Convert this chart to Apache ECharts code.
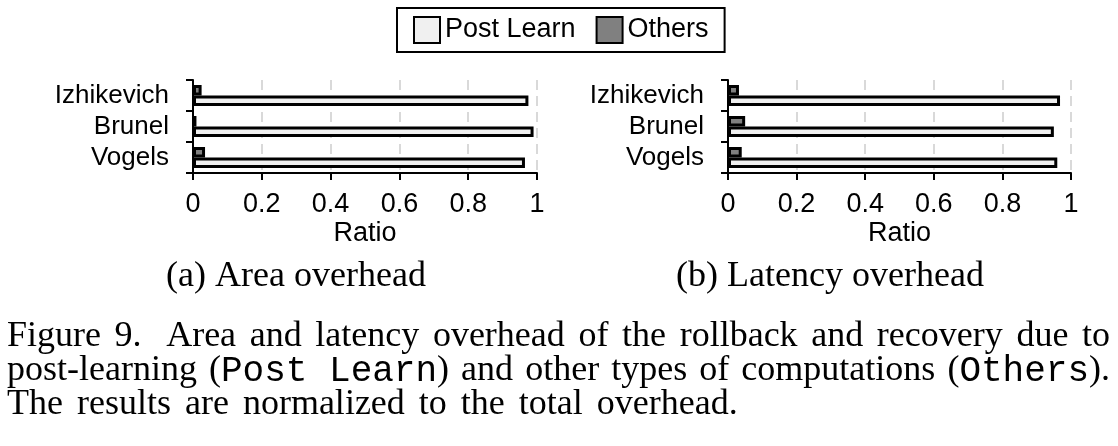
<!DOCTYPE html>
<html><head><meta charset="utf-8">
<script src="https://cdn.jsdelivr.net/npm/echarts@6/dist/echarts.min.js"></script>
<style>html,body{margin:0;padding:0;background:#fff}#c{width:1118px;height:446px}</style>
</head><body><div id="c"></div>
<script>
// ---- data ----
const categories = ['Izhikevich', 'Brunel', 'Vogels'];
const ratioTicks = ['0', '0.2', '0.4', '0.6', '0.8', '1'];
const seriesNames = ['Post Learn', 'Others'];
const areaPostLearn = [0.975, 0.99, 0.965];
const areaOthers = [0.025, 0.01, 0.035];
const latencyPostLearn = [0.968, 0.95, 0.96];
const latencyOthers = [0.032, 0.05, 0.04];
const panelTitles = ['(a) Area overhead', '(b) Latency overhead'];
const axisName = 'Ratio';
// caption: lines -> words -> pieces [text, 's' serif | 'm' mono]
const captionLine1 = [[['Figure', 's']], [['9.', 's']], [['Area', 's']], [['and', 's']], [['latency', 's']], [['overhead', 's']], [['of', 's']], [['the', 's']], [['rollback', 's']], [['and', 's']], [['recovery', 's']], [['due', 's']], [['to', 's']]];
const captionLine2 = [[['post-learning', 's']], [['(', 's'], ['Post Learn', 'm'], [')', 's']], [['and', 's']], [['other', 's']], [['types', 's']], [['of', 's']], [['computations', 's']], [['(', 's'], ['Others', 'm'], [').', 's']]];
const captionLine3 = [[['The', 's']], [['results', 's']], [['are', 's']], [['normalized', 's']], [['to', 's']], [['the', 's']], [['total', 's']], [['overhead.', 's']]];

// ---- styles ----
const SANS = '"Liberation Sans", Arial, sans-serif';
const CAP_SIZE = 36;
const FONTS = { s: CAP_SIZE + 'px "Liberation Serif", "Times New Roman", serif', m: CAP_SIZE + 'px "Liberation Mono", "Courier New", monospace' };
const ctx = document.createElement('canvas').getContext('2d');
function measure(font, t) { ctx.font = font; return ctx.measureText(t).width; }
function wordWidth(w) { return w.reduce((s, p) => s + measure(FONTS[p[1]], p[0]), 0); }

function layoutLine(words, y, justify, weights, extra) {
  const x0 = 7, x1 = 1110;
  const widths = words.map(wordWidth);
  const total = widths.reduce((a, b) => a + b, 0);
  const wts = weights || words.slice(1).map(() => 1);
  const wsum = wts.reduce((a, b) => a + b, 0);
  const unit = justify ? (x1 - x0 - total) / wsum : measure(FONTS.s, ' ') + (extra || 0);
  const els = [];
  let x = x0;
  words.forEach((w, i) => {
    let px = x;
    w.forEach(p => {
      els.push({ type: 'text', x: px, y: y, silent: true,
        style: { text: p[0], font: FONTS[p[1]], fill: '#000', align: 'left', verticalAlign: 'middle' } });
      px += measure(FONTS[p[1]], p[0]);
    });
    x += widths[i] + (i < wts.length ? wts[i] * unit : 0);
  });
  return els;
}

const w1 = captionLine1.slice(1).map((_, i) => (i === 1 ? 1.8 : 1));
const graphicEls = []
  .concat(layoutLine(captionLine1, 337, true, w1))
  .concat(layoutLine(captionLine2, 371, true))
  .concat(layoutLine(captionLine3, 405, false, null, 5));
[296, 830].forEach((cx, i) => {
  graphicEls.push({ type: 'text', x: cx, y: 277, silent: true,
    style: { text: panelTitles[i], font: '36px "Liberation Serif", "Times New Roman", serif', fill: '#000', align: 'center', verticalAlign: 'middle' } });
});

const grids = [
  { left: 193, width: 344, top: 80, height: 93 },
  { left: 728, width: 343, top: 80, height: 93 }
];
const axisLineStyle = { color: '#000', width: 2 };

function xAxisFor(i) {
  return {
    type: 'value', gridIndex: i, min: 0, max: 1, interval: 0.2,
    name: axisName, nameLocation: 'middle', nameGap: 47,
    nameTextStyle: { fontFamily: SANS, fontSize: 27, color: '#000' },
    axisLine: { show: true, onZero: false, lineStyle: axisLineStyle },
    axisTick: { show: true, length: 7, lineStyle: axisLineStyle },
    axisLabel: { margin: 18, fontSize: 27, color: '#000', fontFamily: SANS,
      formatter: v => ratioTicks[Math.round(v / 0.2)] },
    splitLine: { show: true, lineStyle: { color: '#d9d9d9', width: 2, type: [10, 6] } }
  };
}
function yAxisFor(i) {
  return {
    type: 'category', gridIndex: i, data: categories, inverse: true,
    axisLine: { show: true, lineStyle: axisLineStyle },
    axisTick: { show: true, length: 7, interval: 0, lineStyle: axisLineStyle },
    axisLabel: { margin: 24, interval: 0, hideOverlap: false, fontSize: 26, color: '#000', fontFamily: SANS },
    splitLine: { show: false }
  };
}
function barSeries(name, data, i, color) {
  return {
    name: name, type: 'bar', xAxisIndex: i, yAxisIndex: i, data: data,
    barWidth: 10.5, barGap: '0%',
    itemStyle: { color: color, borderColor: '#000', borderWidth: 3 },
    emphasis: { disabled: true }
  };
}

const chart = echarts.init(document.getElementById('c'), null, { renderer: 'canvas' });
chart.setOption({
  animation: false,
  backgroundColor: '#fff',
  legend: {
    data: seriesNames, left: 397, top: 8, icon: 'rect',
    itemWidth: 26, itemHeight: 26, itemGap: 20, padding: [8, 16],
    borderColor: '#000', borderWidth: 2,
    itemStyle: { borderColor: '#000', borderWidth: 2 },
    textStyle: { fontFamily: SANS, fontSize: 27, color: '#000' },
    selectedMode: false
  },
  grid: grids.map(g => Object.assign({ outerBoundsMode: 'none' }, g)),
  xAxis: [xAxisFor(0), xAxisFor(1)],
  yAxis: [yAxisFor(0), yAxisFor(1)],
  series: [
    barSeries('Others', areaOthers, 0, '#808080'),
    barSeries('Post Learn', areaPostLearn, 0, '#f0f0f0'),
    barSeries('Others', latencyOthers, 1, '#808080'),
    barSeries('Post Learn', latencyPostLearn, 1, '#f0f0f0')
  ],
  graphic: { elements: graphicEls }
});
</script></body></html>
